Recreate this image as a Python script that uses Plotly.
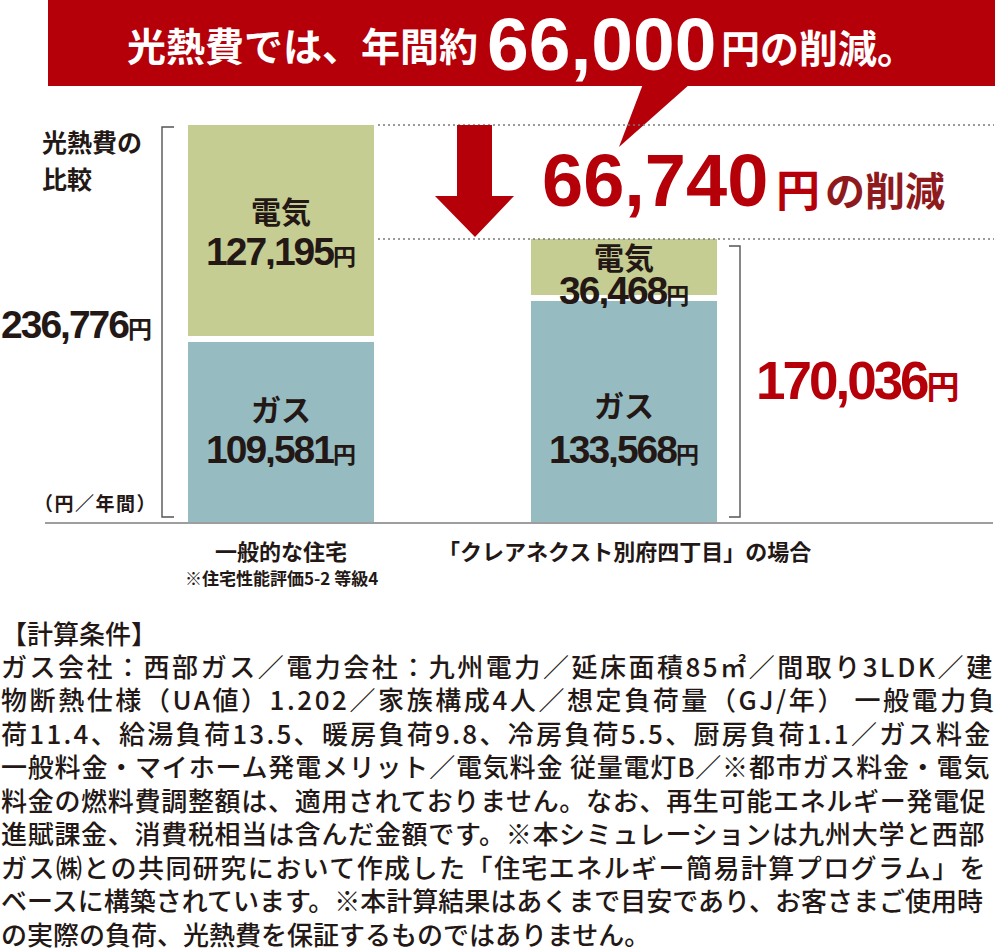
import plotly.graph_objects as go

# ---------------- data ----------------
categories = ["一般的な住宅", "「クレアネクスト別府四丁目」の場合"]
category_notes = ["※住宅性能評価5-2 等級4", ""]
series_names = ["ガス", "電気"]
gas_values = [109581, 133568]
electric_values = [127195, 36468]
banner_parts = ["光熱費では、年間約", "66,000", "円の削減。"]
reduction_suffix = ["円", "の削減"]
currency = "円"
axis_title_lines = ["光熱費の", "比較"]
unit_label = "（円／年間）"
conditions_title = "【計算条件】"
conditions_lines = [
    "ガス会社：西部ガス／電力会社：九州電力／延床面積85㎡／間取り3LDK／建",
    "物断熱仕様（UA値）1.202／家族構成4人／想定負荷量（GJ/年） 一般電力負",
    "荷11.4、給湯負荷13.5、暖房負荷9.8、冷房負荷5.5、厨房負荷1.1／ガス料金",
    "一般料金・マイホーム発電メリット／電気料金 従量電灯B／※都市ガス料金・電気",
    "料金の燃料費調整額は、適用されておりません。なお、再生可能エネルギー発電促",
    "進賦課金、消費税相当は含んだ金額です。※本シミュレーションは九州大学と西部",
    "ガス㈱との共同研究において作成した「住宅エネルギー簡易計算プログラム」を",
    "ベースに構築されています。※本計算結果はあくまで目安であり、お客さまご使用時",
    "の実際の負荷、光熱費を保証するものではありません。",
]

totals = [g + e for g, e in zip(gas_values, electric_values)]
saving = totals[0] - totals[1]

# ---------------- style ----------------
W, H = 1000, 948
GAS_C = "#96bcc2"
ELEC_C = "#c6cd93"
RED = "#b5000a"
MAROON = "#8e1a1e"
DARK = "#231815"
JP = "Noto Sans CJK JP"
LATIN = "Liberation Sans, Arial, Noto Sans CJK JP"


def px(x):
    return x / W


def py(y):
    return 1 - y / H


def poly(points, close=True):
    s = "M " + " L ".join(f"{px(x):.5f},{py(y):.5f}" for x, y in points)
    return s + (" Z" if close else "")


fig = go.Figure()
fig.add_bar(x=categories, y=gas_values, name=series_names[0], width=0.56,
            marker=dict(color=GAS_C, line=dict(color="white", width=6)))
fig.add_bar(x=categories, y=electric_values, name=series_names[1], width=0.56,
            marker=dict(color=ELEC_C, line=dict(color="white", width=6)))

shapes = []
# banner with speech tail
shapes.append(dict(type="rect", xref="paper", yref="paper", x0=px(48), x1=px(995),
                   y0=py(86), y1=py(0), fillcolor=RED, line=dict(width=0), layer="above"))
shapes.append(dict(type="path", xref="paper", yref="paper",
                   path=poly([(643, 84), (690, 84), (619, 147)]),
                   fillcolor=RED, line=dict(width=0)))
# baseline
shapes.append(dict(type="line", xref="paper", yref="paper", x0=px(45), x1=px(993),
                   y0=py(523), y1=py(523), line=dict(color="#9d9e9e", width=2)))
# dotted level lines at totals
for t in totals:
    shapes.append(dict(type="line", xref="paper", yref="y", ysizemode="pixel", yanchor=t,
                       x0=px(378), x1=px(994), y0=-3, y1=-3,
                       line=dict(color="#7a7a7a", width=1.5, dash="2px,3px")))
# brackets
shapes.append(dict(type="path", xref="paper", yref="paper",
                   path=poly([(174, 127), (162, 127), (162, 517), (174, 517)], close=False),
                   line=dict(color="#555353", width=1.4)))
shapes.append(dict(type="path", xref="paper", yref="paper",
                   path=poly([(729, 246), (740, 246), (740, 517), (729, 517)], close=False),
                   line=dict(color="#555353", width=1.4)))
# red arrow
shapes.append(dict(type="path", xref="paper", yref="paper",
                   path=poly([(457, 125), (492, 125), (492, 196), (514, 196), (475, 237),
                              (435, 196), (457, 196)]),
                   fillcolor=RED, line=dict(width=0)))

annotations = []


def add_text(text, x, y, size, color=DARK, family=JP, weight="bold", xanchor="center",
             yanchor="middle", xref="paper", yref="paper", yshift=0, height=None):
    a = dict(text=text, x=x, y=y, xref=xref, yref=yref, xanchor=xanchor,
             yanchor=yanchor, showarrow=False, borderpad=0, yshift=yshift,
             font=dict(family=family, size=size, color=color, weight=weight))
    if height:
        a["height"] = height
    annotations.append(a)


# banner text
add_text(banner_parts[0], px(479), py(44), 39, "white", xanchor="right")
add_text(banner_parts[1], px(601), py(44), 75, "white", family=LATIN)
add_text(banner_parts[2], px(720), py(46), 39, "white", xanchor="left")

# reduction
add_text(f"{saving:,}", px(541), py(180), 74, RED, family=LATIN, xanchor="left")
add_text(reduction_suffix[0], px(775), py(188), 44, RED, xanchor="left")
add_text(reduction_suffix[1], px(824), py(189), 40, MAROON, xanchor="left")

# axis title & unit
add_text(axis_title_lines[0], px(41), py(141), 25, xanchor="left")
add_text(axis_title_lines[1], px(41), py(178), 25, xanchor="left")
add_text(f"<span style='letter-spacing:1.5px'>{unit_label}</span>", px(33), py(502), 19,
         xanchor="left")


def money(v, big, small, ls):
    return (f"<span style='font-size:{big}px;letter-spacing:{ls}px'>{v:,}</span>"
            f"<span style='font-size:{small}px'>{currency}</span>")


# totals
add_text(money(totals[0], 39, 24, -2), px(153), totals[0] / 2, 39, DARK, family=LATIN,
         xanchor="right", yref="y")
add_text(money(totals[1], 53, 33, -3), px(755), totals[1] / 2, 53, RED, family=LATIN,
         xanchor="left", yref="y")

# in-bar labels
elec_name_y = [210, 256]
elec_val_y = [251, 290]
gas_name_y = [408, 404]
gas_val_y = [449, 449]
for i in range(len(categories)):
    add_text(series_names[1], i, py(elec_name_y[i]), 30, xref="x", height=34)
    add_text(money(electric_values[i], 39, 23, -2), i, py(elec_val_y[i]), 39,
             family=LATIN, xref="x", height=36)
    add_text(series_names[0], i, py(gas_name_y[i]), 30, xref="x", height=34)
    add_text(money(gas_values[i], 39, 23, -2), i, py(gas_val_y[i]), 39,
             family=LATIN, xref="x", height=36)

# category labels
for i, c in enumerate(categories):
    add_text(c, i, py(550), 22, xref="x")
    if category_notes[i]:
        add_text(category_notes[i], i, py(577), 17, xref="x")


# conditions text (justified by letter spacing estimate)
def est_em(s):
    w = 0.0
    for ch in s:
        o = ord(ch)
        if o >= 0x2E80 or ch in "※":
            w += 1.0
        elif ch in ".,":
            w += 0.27
        elif ch == " ":
            w += 0.25
        elif ch == "/":
            w += 0.38
        else:
            w += 0.57
    return w


COND_SIZE = 26
add_text(conditions_title, px(0), py(632), COND_SIZE, weight=500, xanchor="left", height=31)
for i, line in enumerate(conditions_lines):
    text = line
    if i < len(conditions_lines) - 1:
        ls = (988 - est_em(line) * COND_SIZE) / len(line)
        text = f"<span style='letter-spacing:{ls:.2f}px'>{line}</span>"
    add_text(text, px(0), py(665 + 33.5 * i), COND_SIZE, weight=500, xanchor="left",
             height=31)

fig.update_layout(
    width=W, height=H, barmode="stack", showlegend=False, hovermode=False,
    margin=dict(l=0, r=0, t=0, b=0),
    paper_bgcolor="white", plot_bgcolor="white",
    xaxis=dict(domain=[0.1095, 0.7955], range=[-0.5, 1.5], visible=False),
    yaxis=dict(domain=[1 - 526 / H, 1 - 122 / H], range=[0, totals[0]], visible=False),
    shapes=shapes, annotations=annotations,
)

fig.write_html("out.html", config={"displayModeBar": False},
               post_script="document.body.style.margin='0';document.body.style.padding='0';")
